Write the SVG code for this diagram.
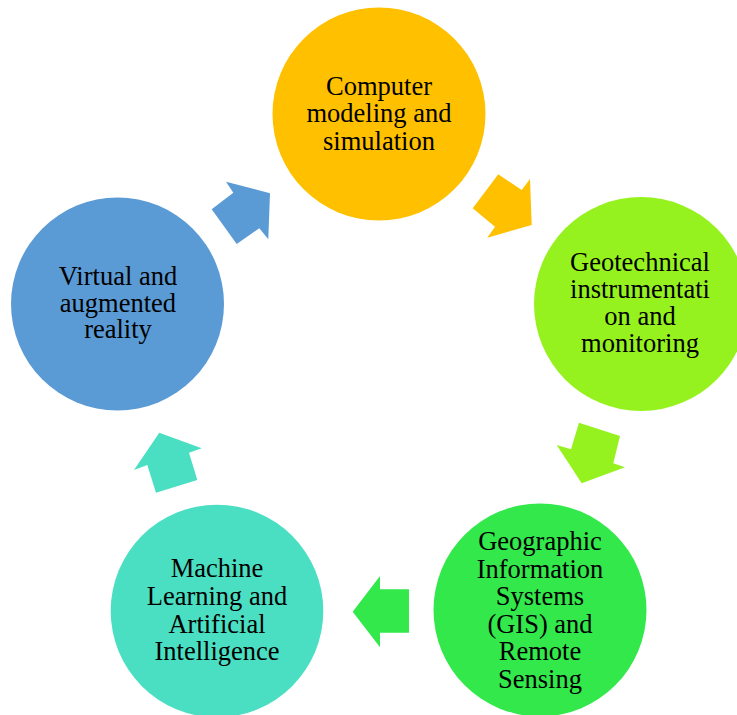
<svg xmlns="http://www.w3.org/2000/svg" width="737" height="715" viewBox="0 0 737 715">
  <style>
    .label { font-family: "Liberation Serif", "Times New Roman", serif; font-size: 26.5px; fill: #000; text-anchor: middle; }
    .c1 { fill: #FFC000; }
    .c2 { fill: #96F21E; }
    .c3 { fill: #32E84B; }
    .c4 { fill: #4ADFC2; }
    .c5 { fill: #5B9BD5; }
  </style>
  <rect width="737" height="715" fill="#fff"/>

  <!-- Block arrows between the stages of the cycle -->
  <g id="connectors">
    <polygon class="c5" points="226,181.7 270,193.3 268.3,239.3 259.3,228.3 236.7,244 211.7,209.3 233.3,192.7"/>
    <polygon class="c1" points="498.3,174.3 521.7,190 530,179 531.7,225 487.3,237.7 495,226.7 472.7,208.3"/>
    <polygon class="c2" points="579,422.7 620,436 613.3,463.3 625,467.3 581.7,483.3 556.7,445 571,449.3"/>
    <polygon class="c3" points="409,589.3 380,589.3 380,576 352.7,611.7 380,647.3 380,632.7 409,632.7"/>
    <polygon class="c4" points="159.3,432.7 201.7,448.3 189,452.7 197.3,480 156,492.7 147.3,465 134,470"/>
  </g>

  <g id="computer-modeling">
    <circle class="c1" cx="379" cy="114" r="106.5"/>
    <text class="label" x="379" y="95">Computer</text>
    <text class="label" x="379" y="122.3">modeling and</text>
    <text class="label" x="379" y="149.6">simulation</text>
  </g>

  <g id="geotechnical-monitoring">
    <circle class="c2" cx="641" cy="304" r="107"/>
    <text class="label" x="640" y="271">Geotechnical</text>
    <text class="label" x="640" y="298">instrumentati</text>
    <text class="label" x="640" y="325">on and</text>
    <text class="label" x="640" y="352.3">monitoring</text>
  </g>

  <g id="gis-remote-sensing">
    <circle class="c3" cx="540" cy="610" r="106.5"/>
    <text class="label" x="540" y="550">Geographic</text>
    <text class="label" x="540" y="577.6">Information</text>
    <text class="label" x="540" y="605.2">Systems</text>
    <text class="label" x="540" y="632.8">(GIS) and</text>
    <text class="label" x="540" y="660.4">Remote</text>
    <text class="label" x="540" y="688">Sensing</text>
  </g>

  <g id="machine-learning">
    <circle class="c4" cx="217" cy="611" r="106.3"/>
    <text class="label" x="217" y="577.3">Machine</text>
    <text class="label" x="217" y="605">Learning and</text>
    <text class="label" x="217" y="632.6">Artificial</text>
    <text class="label" x="217" y="660">Intelligence</text>
  </g>

  <g id="virtual-augmented-reality">
    <circle class="c5" cx="117.5" cy="304" r="106.5"/>
    <text class="label" x="118" y="285">Virtual and</text>
    <text class="label" x="118" y="311.7">augmented</text>
    <text class="label" x="118" y="338.3">reality</text>
  </g>
</svg>
